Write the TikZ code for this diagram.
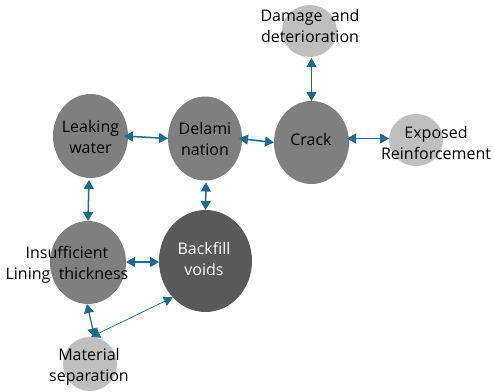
\documentclass[tikz,border=0pt]{standalone}
\usepackage{fontspec}
\setmainfont{Open Sans}
\usetikzlibrary{shapes.geometric,arrows.meta}
\definecolor{midg}{HTML}{7F7F7F}
\definecolor{darkg}{HTML}{595959}
\definecolor{lightg}{HTML}{BFBFBF}
\definecolor{arr}{HTML}{1C6A8C}
\tikzset{
  bub/.style={ellipse,inner sep=0pt,outer sep=0pt,draw=none},
  midbub/.style={bub,fill=midg},
  darkbub/.style={bub,fill=darkg,text=white},
  lightbub/.style={bub,fill=lightg},
  txt/.style={font=\fontsize{16}{20.5}\selectfont,align=center,inner sep=0pt},
  link/.style={arr,line width=1.5pt,{Triangle[width=10pt,length=9pt]}-{Triangle[width=10pt,length=9pt]}},
}
\begin{document}
\begin{tikzpicture}[x=1pt,y=-1pt]
\useasboundingbox (0,0) rectangle (494,391);
\fill[white] (0,0) rectangle (494,391);
% bubbles
\node[midbub,minimum width=75pt,minimum height=84pt] (leak) at (90.5,136) {};
\node[midbub,minimum width=74pt,minimum height=84pt] (del) at (205,138.5) {};
\node[midbub,minimum width=75pt,minimum height=83pt] (crack) at (311.5,142.5) {};
\node[lightbub,minimum width=55pt,minimum height=52pt] (dmg) at (309.5,31) {};
\node[lightbub,minimum width=54pt,minimum height=52pt] (exp) at (416,140) {};
\node[midbub,minimum width=76pt,minimum height=83pt] (ins) at (88,262.5) {};
\node[darkbub,minimum width=93pt,minimum height=102pt] (back) at (205.5,261) {};
\node[lightbub,minimum width=54pt,minimum height=54pt] (mat) at (90,364) {};
% texts
\node[txt] (leak-t) at (90.5,137) {Leaking\\water};
\node[txt] (del-t) at (205,139) {Delami\\nation};
\node[txt] (crack-t) at (311,139) {Crack};
\node[txt] (dmg-t) at (310,26) {Damage~ and\\deterioration};
\node[txt] (exp-t) at (436,143) {Exposed\\Reinforcement};
\node[txt] (ins-t) at (67,265) {Insufficient\\Lining~ thickness};
\node[txt,text=white] (back-t) at (204,259) {Backfill\\voids};
\node[txt] (mat-t) at (89,367) {Material\\separation};
% links
\draw[link] (leak.east) ++(-4,0) coordinate (a1) (a1) -- (del.west);
\draw[link] (del.east) ++(-3,0) coordinate (a2) (a2) -- (crack.west);
\draw[link] (crack.east) ++(-2,-4) coordinate (a3) (a3) -- (exp.west |- a3);
\draw[link,line width=0.9pt] (dmg.south) ++(2,1) coordinate (a4) (a4) -- (crack.north);
\draw[link] (leak.south) ++(-1.5,2) coordinate (a5) (a5) -- (ins.north);
\draw[link] (del.south) ++(1,2) coordinate (a6) (a6) -- (back.north);
\draw[link,line width=1.2pt] (ins.east) ++(0,-0.5) coordinate (a7) (a7) -- (back.west |- a7);
\draw[link,line width=1.2pt] (ins.south) ++(-1,0) coordinate (a8) (a8) -- (mat.80);
\draw[link,line width=0.7pt] (back.228) -- (mat.88);
\end{tikzpicture}
\end{document}
